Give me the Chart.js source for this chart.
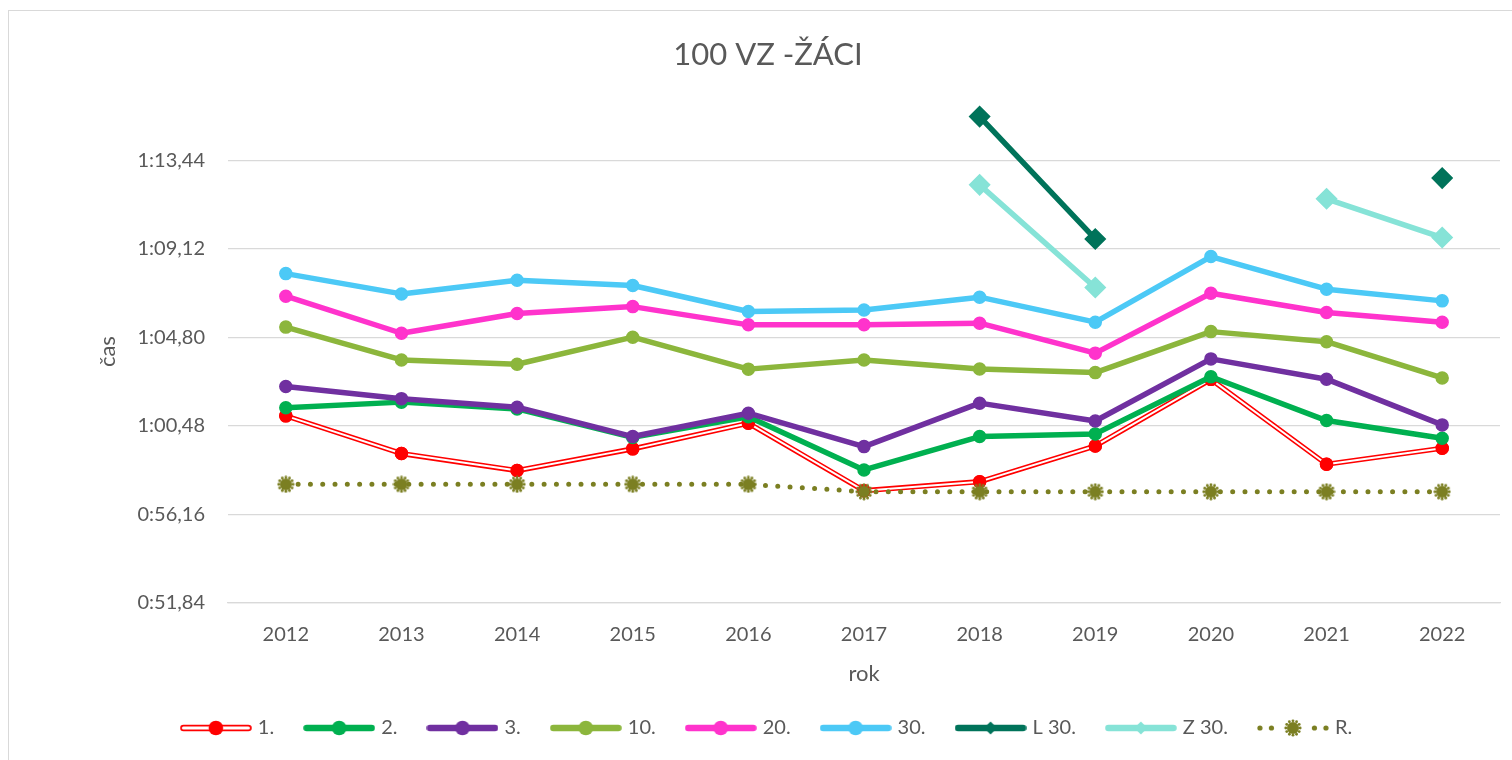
<!DOCTYPE html>
<html lang="sk">
<head>
<meta charset="utf-8">
<title>100 VZ -ŽÁCI</title>
<script src="https://cdn.jsdelivr.net/npm/chart.js@4.4.1/dist/chart.umd.min.js"></script>
<style>
    html, body { margin: 0; padding: 0; background: #fff; overflow: hidden; }
    #frame {
        position: absolute; left: 8px; top: 10px;
        width: 1600px; height: 800px;
        border: 1px solid #d9d9d9;
    }
    #chart { position: absolute; left: 0; top: 0; }
</style>
</head>
<body>
<div id="frame"></div>
<canvas id="chart" width="1512" height="760"></canvas>
<script>
/* =========================================================
   DATA (časy v sekundách)
   ========================================================= */

const years = ["2012", "2013", "2014", "2015", "2016", "2017", "2018", "2019", "2020", "2021", "2022"];

const place1  = [60.97, 59.13, 58.30, 59.36, 60.61, 57.32, 57.76, 59.50, 62.75, 58.61, 59.39];
const place2  = [61.37, 61.64, 61.31, 59.92, 60.93, 58.33, 59.96, 60.09, 62.88, 60.74, 59.88];
const place3  = [62.40, 61.81, 61.39, 59.96, 61.10, 59.47, 61.59, 60.72, 63.75, 62.76, 60.53];
const place10 = [65.30, 63.70, 63.49, 64.81, 63.25, 63.70, 63.26, 63.08, 65.08, 64.59, 62.82];
const place20 = [66.81, 65.00, 65.96, 66.30, 65.41, 65.41, 65.49, 64.03, 66.95, 66.01, 65.54];
const place30 = [67.91, 66.92, 67.59, 67.33, 66.06, 66.13, 66.76, 65.54, 68.74, 67.15, 66.58];
const summer30 = [null, null, null, null, null, null, 75.57, 69.60, null, null, 72.57];
const winter30 = [null, null, null, null, null, null, 72.24, 67.23, null, 71.56, 69.67];
const record   = [57.63, 57.63, 57.63, 57.63, 57.63, 57.27, 57.27, 57.27, 57.27, 57.27, 57.27];

const yTicks = [51.84, 56.16, 60.48, 64.80, 69.12, 73.44];
const Y_MIN = 51.84;
const Y_MAX = 76.37;

const TEXT = "#595959";
const GRID = "#d9d9d9";
const FONT = "Lato, 'Open Sans', sans-serif";

const LEGEND_DY = -12;


/* =========================================================
   POMOCNÉ FUNKCIE
   ========================================================= */

function formatTime(value) {
    const min = Math.floor(value / 60 + 1e-9);
    const sec = (value - min * 60).toFixed(2).padStart(5, "0").replace(".", ",");
    return `${min}:${sec}`;
}

function drawDotMarker(ctx, cx, cy, r, color) {
    ctx.fillStyle = color;
    ctx.beginPath();
    ctx.arc(cx, cy, r, 0, Math.PI * 2);
    ctx.fill();
    for (let i = 0; i < 12; i++) {
        const a = i * Math.PI / 6;
        ctx.beginPath();
        ctx.arc(cx + Math.cos(a) * (r + 1.2), cy + Math.sin(a) * (r + 1.2), 1.4, 0, Math.PI * 2);
        ctx.fill();
    }
}

function makeRecordMarker(color) {
    const c = document.createElement("canvas");
    c.width = 18;
    c.height = 18;
    drawDotMarker(c.getContext("2d"), 9, 9, 6, color);
    return c;
}

function makeLegendIcon(kind, color, marker) {
    const c = document.createElement("canvas");
    c.width = 72;
    c.height = 20;
    const ctx = c.getContext("2d");
    const y = 10;
    const mid = 36;

    if (kind === "dots") {
        ctx.fillStyle = color;
        [3, 14.5, 57.5, 69].forEach(x => {
            ctx.beginPath();
            ctx.arc(x, y, 2.6, 0, Math.PI * 2);
            ctx.fill();
        });
        drawDotMarker(ctx, mid, y, 6, color);
        return c;
    }

    ctx.lineCap = "round";
    ctx.strokeStyle = color;
    ctx.lineWidth = 6.5;
    ctx.beginPath();
    ctx.moveTo(3.5, y);
    ctx.lineTo(68.5, y);
    ctx.stroke();

    if (kind === "double") {
        ctx.strokeStyle = "#fff";
        ctx.lineWidth = 3;
        ctx.beginPath();
        ctx.moveTo(3.5, y);
        ctx.lineTo(68.5, y);
        ctx.stroke();
    }

    ctx.fillStyle = color;
    ctx.beginPath();
    if (marker === "diamond") {
        ctx.moveTo(mid, y - 6.5);
        ctx.lineTo(mid + 6.5, y);
        ctx.lineTo(mid, y + 6.5);
        ctx.lineTo(mid - 6.5, y);
        ctx.closePath();
    } else {
        ctx.arc(mid, y, 7.3, 0, Math.PI * 2);
    }
    ctx.fill();
    return c;
}


/* =========================================================
   SÉRIE
   ========================================================= */

const recordMarker = makeRecordMarker("#7b7f22");

const series = [
    { label: "1.",    data: place1,   color: "#ff0000", kind: "double", marker: "circle" },
    { label: "2.",    data: place2,   color: "#00b050", kind: "line",   marker: "circle" },
    { label: "3.",    data: place3,   color: "#7030a0", kind: "line",   marker: "circle" },
    { label: "10.",   data: place10,  color: "#8cb63c", kind: "line",   marker: "circle" },
    { label: "20.",   data: place20,  color: "#ff33cc", kind: "line",   marker: "circle" },
    { label: "30.",   data: place30,  color: "#4cc9f6", kind: "line",   marker: "circle" },
    { label: "L 30.", data: summer30, color: "#00735a", kind: "line",   marker: "diamond" },
    { label: "Z 30.", data: winter30, color: "#86e3d7", kind: "line",   marker: "diamond" },
    { label: "R.",    data: record,   color: "#7b7f22", kind: "dots",   marker: "record" }
];

const datasets = series.map((s, i) => {
    const ds = {
        label: s.label,
        data: s.data,
        order: series.length - i,
        borderColor: s.color,
        backgroundColor: s.color,
        borderWidth: 5.5,
        borderJoinStyle: "round",
        borderCapStyle: "round",
        tension: 0,
        spanGaps: false,
        pointRadius: 6,
        pointBorderWidth: 1.5,
        pointBorderColor: s.color,
        pointBackgroundColor: s.color,
        pointStyle: "circle",
        legendIcon: makeLegendIcon(s.kind, s.color, s.marker)
    };

    if (s.kind === "double") {
        ds.borderWidth = 5.2;
        ds.innerColor = "#fff";
        ds.innerWidth = 2;
    }

    if (s.marker === "diamond") {
        ds.pointStyle = "rectRot";
        ds.pointRadius = 10;
    }

    if (s.kind === "dots") {
        ds.borderWidth = 5;
        ds.borderDash = [0, 12.3];
        ds.pointStyle = recordMarker;
    }

    return ds;
});


/* =========================================================
   PLUGINY
   ========================================================= */

// dvojitá čiara pre 1. miesto (biely stred), body sa prekreslia navrch
const doubleLine = {
    id: "doubleLine",
    afterDatasetDraw(chart, args) {
        const ds = chart.data.datasets[args.index];
        if (!ds.innerColor) return;

        const points = args.meta.data;
        const ctx = chart.ctx;

        ctx.save();
        ctx.strokeStyle = ds.innerColor;
        ctx.lineWidth = ds.innerWidth;
        ctx.lineJoin = "round";
        ctx.beginPath();
        points.forEach((p, i) => {
            if (i === 0) ctx.moveTo(p.x, p.y);
            else ctx.lineTo(p.x, p.y);
        });
        ctx.stroke();
        ctx.restore();

        points.forEach(p => p.draw(ctx, chart.chartArea));
    }
};

const legendShift = {
    id: "legendShift",
    afterLayout(chart) {
        const lg = chart.legend;
        lg.top += LEGEND_DY;
        lg.bottom += LEGEND_DY;
    }
};


/* =========================================================
   GRAF
   ========================================================= */

new Chart(document.getElementById("chart").getContext("2d"), {
    type: "line",

    data: {
        labels: years,
        datasets
    },

    options: {
        responsive: false,
        animation: false,

        layout: {
            padding: { left: 36, right: 12, top: 0, bottom: 0 }
        },

        plugins: {
            title: {
                display: true,
                text: "100 VZ -ŽÁCI",
                color: TEXT,
                font: { family: FONT, size: 31, weight: "normal" },
                padding: { top: 36, bottom: 27 }
            },

            legend: {
                position: "bottom",
                labels: {
                    color: TEXT,
                    font: { family: FONT, size: 20 },
                    usePointStyle: true,
                    pointStyleWidth: 64,
                    padding: 33,
                    generateLabels(chart) {
                        return chart.data.datasets.map((ds, i) => ({
                            text: ds.label,
                            pointStyle: ds.legendIcon,
                            fillStyle: ds.borderColor,
                            strokeStyle: ds.borderColor,
                            lineWidth: 0,
                            fontColor: TEXT,
                            hidden: !chart.isDatasetVisible(i),
                            datasetIndex: i
                        }));
                    }
                }
            },

            tooltip: {
                callbacks: {
                    label(context) {
                        return `${context.dataset.label} ${formatTime(context.raw)}`;
                    }
                }
            }
        },

        scales: {
            x: {
                offset: true,
                grid: { display: false, drawTicks: false },
                border: { display: true, color: GRID, width: 1.3 },
                ticks: {
                    color: TEXT,
                    font: { family: FONT, size: 20 },
                    padding: 20
                },
                title: {
                    display: true,
                    text: "rok",
                    color: TEXT,
                    font: { family: FONT, size: 22 },
                    padding: { top: 0, bottom: 10 }
                },
                afterFit(scale) {
                    scale.height = 94;
                }
            },

            y: {
                min: Y_MIN,
                max: Y_MAX,
                grid: { color: GRID, lineWidth: 1.3, drawTicks: false },
                border: { display: false },
                ticks: {
                    color: TEXT,
                    font: { family: FONT, size: 20 },
                    padding: 23,
                    callback(value) {
                        return formatTime(value);
                    }
                },
                title: {
                    display: true,
                    text: "čas",
                    color: TEXT,
                    font: { family: FONT, size: 22 },
                    padding: { top: 59, bottom: 0 }
                },
                afterBuildTicks(scale) {
                    scale.ticks = yTicks.map(value => ({ value }));
                },
                afterFit(scale) {
                    scale.width = 192;
                }
            }
        }
    },

    plugins: [doubleLine, legendShift]
});
</script>
</body>
</html>
